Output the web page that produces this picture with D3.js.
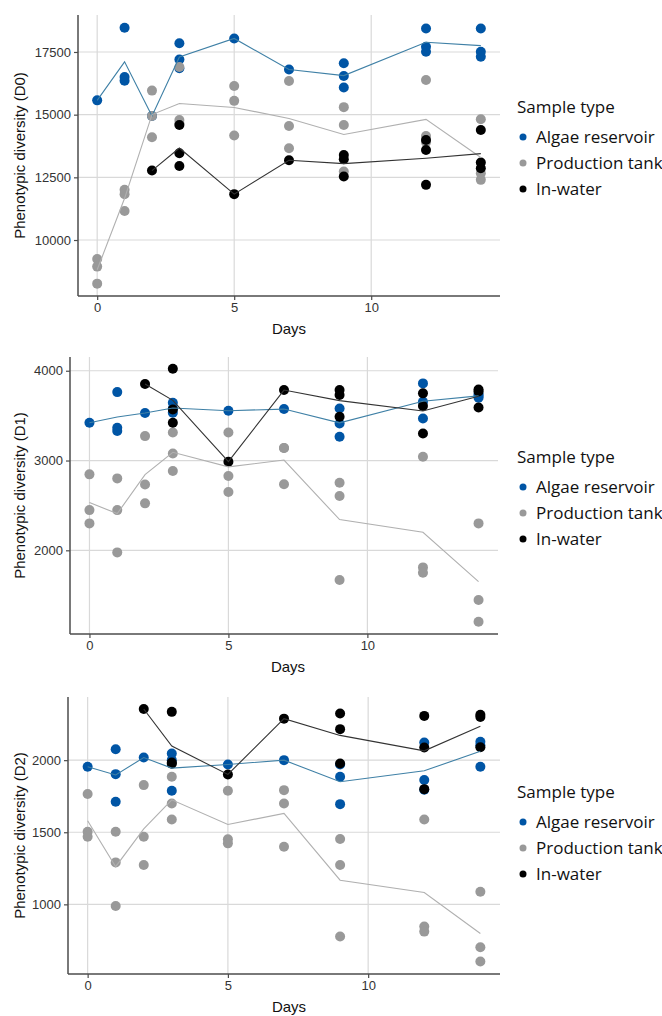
<!DOCTYPE html>
<html>
<head>
<meta charset="utf-8">
<script src="https://cdn.jsdelivr.net/npm/d3@7"></script>
<style>
  body { margin: 0; background: #fff; }
  svg { display: block; }
</style>
</head>
<body>
<svg id="chart" width="662" height="1016"></svg>
<script>
// Sample types, in legend order
var types = ['Algae reservoir', 'Production tank', 'In-water']
var xTicks = [0, 5, 10]

// D0 values, [day, value]
var d0Algae = [[0, 15570], [1, 18470], [1, 16500], [1, 16350], [2, 14950], [3, 17850], [3, 17200], [3, 16850],
  [5, 18040], [7, 16800], [9, 17050], [9, 16540], [9, 16080], [12, 18440], [12, 17710], [12, 17510],
  [14, 18440], [14, 17510], [14, 17310]]
var d0Tank = [[0, 9240], [0, 8940], [0, 8260], [1, 12000], [1, 11830], [1, 11160], [2, 15960], [2, 14950], [2, 14100],
  [3, 16900], [3, 14790], [3, 14650], [5, 16140], [5, 15550], [5, 14170], [7, 16340], [7, 14550], [7, 13660],
  [9, 15300], [9, 14590], [9, 12730], [12, 16380], [12, 14150], [12, 13900], [14, 14820], [14, 12660], [14, 12400]]
var d0Water = [[2, 12770], [3, 14590], [3, 13460], [3, 12950], [5, 11830], [7, 13180],
  [9, 13390], [9, 13220], [9, 12530], [12, 13990], [12, 13590], [12, 12200], [14, 14390], [14, 13090], [14, 12860]]
var d0Ticks = [10000, 12500, 15000, 17500]

// D1 values
var d1Algae = [[0, 3421], [1, 3762], [1, 3365], [1, 3328], [2, 3529], [3, 3644], [3, 3580], [3, 3533],
  [5, 3555], [7, 3573], [9, 3580], [9, 3413], [9, 3265], [12, 3859], [12, 3655], [12, 3469],
  [14, 3740], [14, 3720], [14, 3700]]
var d1Tank = [[0, 2846], [0, 2448], [0, 2300], [1, 2801], [1, 2448], [1, 1977], [2, 3272], [2, 2734], [2, 2523],
  [3, 3313], [3, 3079], [3, 2883], [5, 3313], [5, 2827], [5, 2649], [7, 3140], [7, 3140], [7, 2735],
  [9, 2753], [9, 2604], [9, 1669], [12, 3042], [12, 1810], [12, 1750], [14, 2300], [14, 1446], [14, 1205]]
var d1Water = [[2, 3852], [3, 4022], [3, 3569], [3, 3421], [5, 2987], [7, 3785],
  [9, 3785], [9, 3729], [9, 3488], [12, 3748], [12, 3607], [12, 3302], [14, 3790], [14, 3770], [14, 3590]]
var d1Ticks = [2000, 3000, 4000]

// D2 values
var d2Algae = [[0, 1954], [1, 2076], [1, 1903], [1, 1712], [2, 2018], [3, 2046], [3, 2000], [3, 1788],
  [5, 1970], [7, 2000], [9, 1970], [9, 1885], [9, 1695], [12, 2122], [12, 1862], [12, 1795],
  [14, 2127], [14, 2104], [14, 1954]]
var d2Tank = [[0, 1765], [0, 1504], [0, 1469], [1, 1504], [1, 1291], [1, 989], [2, 1827], [2, 1469], [2, 1273],
  [3, 1885], [3, 1700], [3, 1589], [5, 1788], [5, 1451], [5, 1423], [7, 1792], [7, 1700], [7, 1400],
  [9, 1453], [9, 1273], [9, 777], [12, 1589], [12, 846], [12, 811], [14, 1088], [14, 703], [14, 604]]
var d2Water = [[2, 2355], [3, 2335], [3, 1984], [3, 1975], [5, 1901], [7, 2288],
  [9, 2323], [9, 2215], [9, 1977], [12, 2307], [12, 2088], [12, 1799], [14, 2315], [14, 2300], [14, 2090]]
var d2Ticks = [1000, 1500, 2000]

var dotColor = { 'Algae reservoir': '#0055a5', 'Production tank': '#999999', 'In-water': '#000000' }
var lineColor = { 'Algae reservoir': '#3f80a6', 'Production tank': '#b0b0b0', 'In-water': '#333333' }

var panels = [
  { label: 'Phenotypic diversity (D0)', series: [d0Algae, d0Tank, d0Water], ticks: d0Ticks,
    yDomain: [7767, 18975], left: 78, right: 500, top: 15, bottom: 296, legendY: 107 },
  { label: 'Phenotypic diversity (D1)', series: [d1Algae, d1Tank, d1Water], ticks: d1Ticks,
    yDomain: [1068, 4153], left: 70, right: 498, top: 357, bottom: 634, legendY: 457 },
  { label: 'Phenotypic diversity (D2)', series: [d2Algae, d2Tank, d2Water], ticks: d2Ticks,
    yDomain: [517, 2438], left: 68, right: 500, top: 697, bottom: 974, legendY: 792 }
]

var svg = d3.select('#chart')

panels.forEach(function (p) {
  var x = d3.scaleLinear().domain([-0.7, 14.7]).range([p.left, p.right])
  var y = d3.scaleLinear().domain(p.yDomain).range([p.bottom, p.top])
  var g = svg.append('g')

  // grid
  g.selectAll('.gx').data(xTicks).enter().append('line')
    .attr('x1', function (d) { return x(d) }).attr('x2', function (d) { return x(d) })
    .attr('y1', p.top).attr('y2', p.bottom)
    .attr('stroke', '#d9d9d9').attr('stroke-width', 1.2)
  g.selectAll('.gy').data(p.ticks).enter().append('line')
    .attr('x1', p.left).attr('x2', p.right)
    .attr('y1', function (d) { return y(d) }).attr('y2', function (d) { return y(d) })
    .attr('stroke', '#d9d9d9').attr('stroke-width', 1.2)

  // points
  p.series.forEach(function (s, i) {
    g.selectAll(null).data(s).enter().append('circle')
      .attr('cx', function (d) { return x(d[0]) })
      .attr('cy', function (d) { return y(d[1]) })
      .attr('r', 5)
      .attr('fill', dotColor[types[i]])
  })

  // mean lines
  p.series.forEach(function (s, i) {
    var means = d3.rollups(s, function (v) { return d3.mean(v, function (d) { return d[1] }) }, function (d) { return d[0] })
      .sort(function (a, b) { return a[0] - b[0] })
    g.append('path')
      .datum(means)
      .attr('fill', 'none')
      .attr('stroke', lineColor[types[i]])
      .attr('stroke-width', 1.1)
      .attr('d', d3.line().x(function (d) { return x(d[0]) }).y(function (d) { return y(d[1]) }))
  })

  // axes
  var ax = g.append('g').attr('transform', 'translate(0,' + p.bottom + ')')
    .call(d3.axisBottom(x).tickValues(xTicks).tickSize(4).tickPadding(3))
  var ay = g.append('g').attr('transform', 'translate(' + p.left + ',0)')
    .call(d3.axisLeft(y).tickValues(p.ticks).tickFormat(d3.format('d')).tickSize(4).tickPadding(3))
  ;[ax, ay].forEach(function (a) {
    a.select('.domain').attr('stroke', '#4d4d4d').attr('stroke-width', 1.5)
    a.selectAll('.tick line').attr('stroke', '#4d4d4d').attr('stroke-width', 1.2)
    a.selectAll('.tick text').attr('fill', '#333').style('font', '13px "Liberation Sans", Arial, sans-serif')
  })
  ax.select('.domain').attr('d', 'M' + p.left + ',0H' + p.right)
  ay.select('.domain').attr('d', 'M0,' + p.top + 'V' + p.bottom)

  g.append('text')
    .attr('x', (p.left + p.right) / 2 + 78 - p.left + (p.left - 78) / 2)
    .attr('y', p.bottom + 38)
    .attr('text-anchor', 'middle')
    .style('font', '15px "Liberation Sans", Arial, sans-serif')
    .attr('fill', '#111')
    .text('Days')
  g.append('text')
    .attr('transform', 'translate(25,' + (p.top + p.bottom) / 2 + ') rotate(-90)')
    .attr('text-anchor', 'middle')
    .style('font', '15px "Liberation Sans", Arial, sans-serif')
    .attr('fill', '#111')
    .text(p.label)

  // legend
  var lg = g.append('g').attr('transform', 'translate(517,' + p.legendY + ')')
  lg.append('text').attr('x', 0).attr('y', 6)
    .style('font', '17px "Open Sans", sans-serif').attr('fill', '#111')
    .text('Sample type')
  lg.selectAll('.item').data(types).enter().append('g')
    .attr('transform', function (d, i) { return 'translate(0,' + (30 + i * 26) + ')' })
    .each(function (d) {
      var it = d3.select(this)
      it.append('circle').attr('cx', 6).attr('cy', 0).attr('r', 3.5).attr('fill', dotColor[d])
      it.append('text').attr('x', 19).attr('y', 6)
        .style('font', '17px "Open Sans", sans-serif').attr('fill', '#111')
        .text(d)
    })
})
</script>
</body>
</html>
